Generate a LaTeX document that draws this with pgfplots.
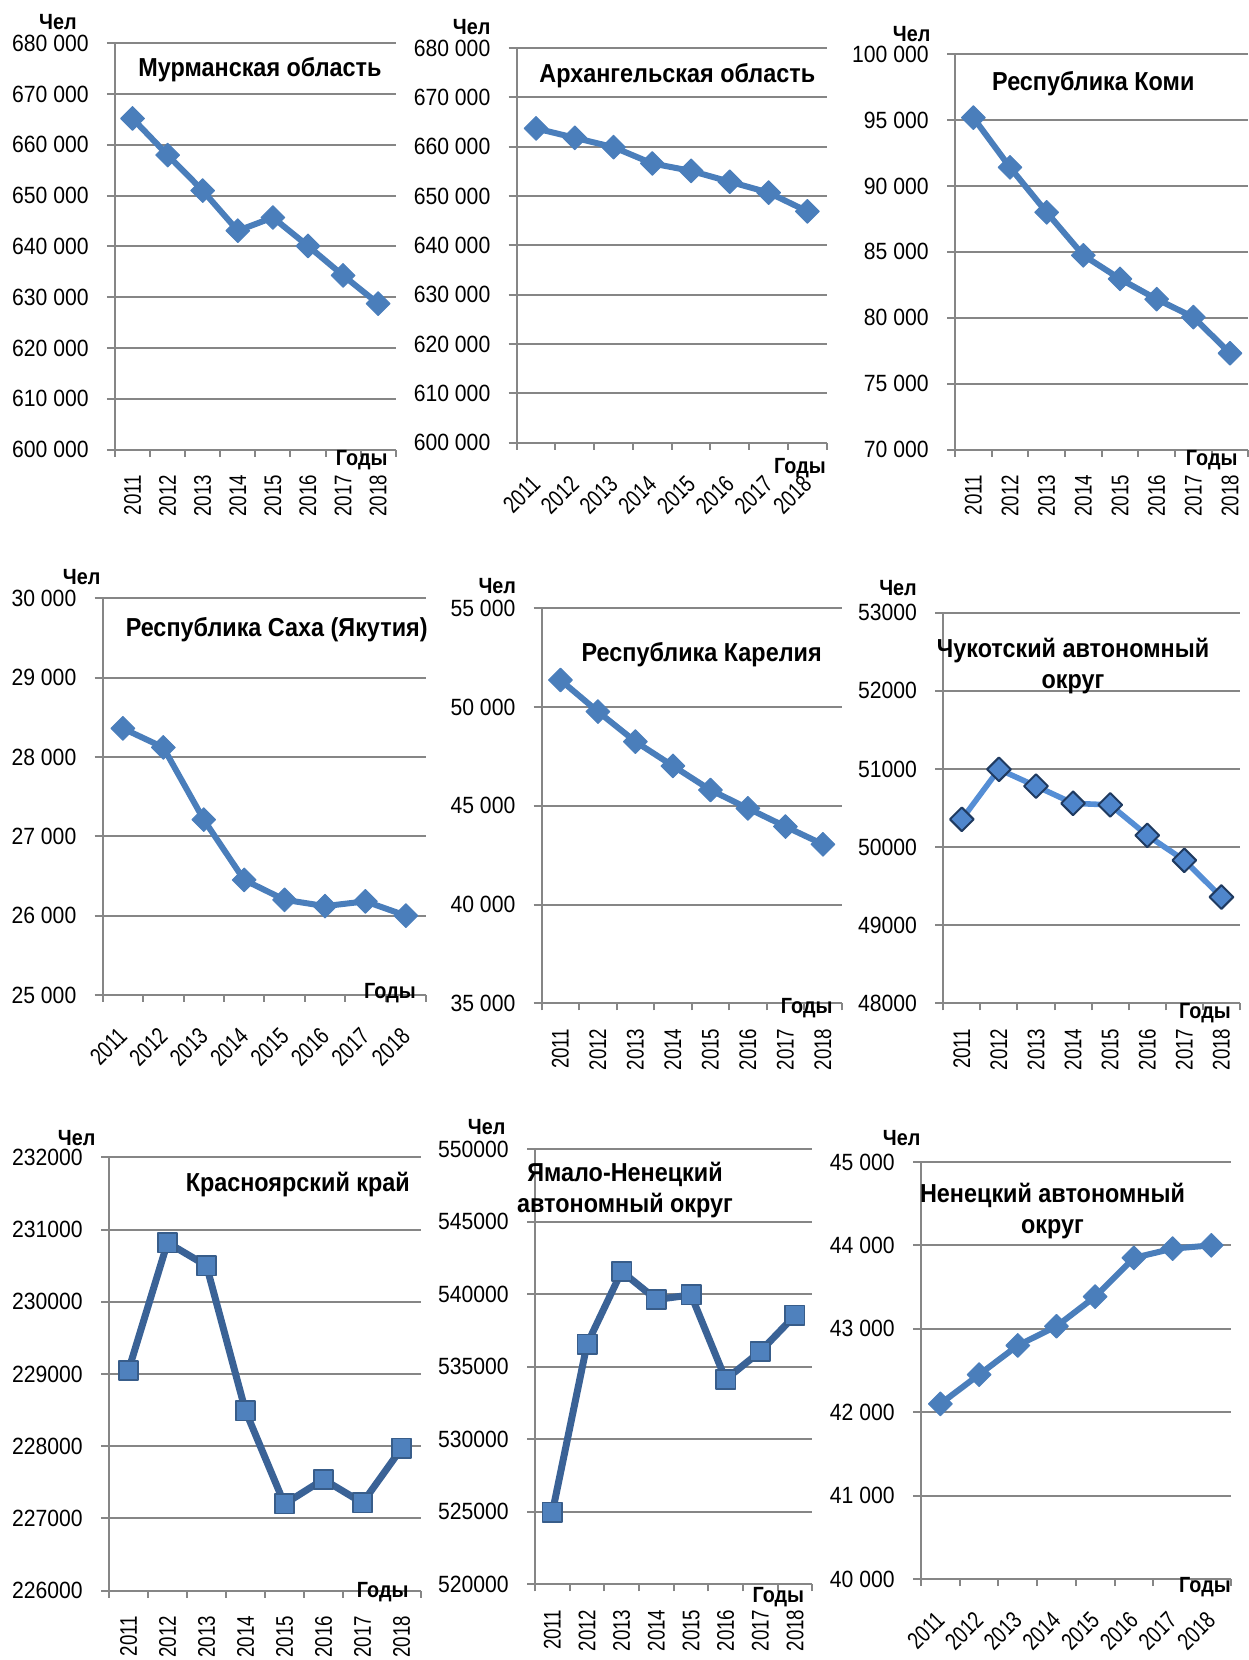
\documentclass[border=0pt]{standalone}
\usepackage{fontspec}
\setmainfont{Liberation Sans}[FakeStretch=0.9]
\newfontfamily\yearfont{Liberation Sans}[FakeStretch=0.78]
\usepackage{pgfplots}
\pgfplotsset{compat=1.18}
\definecolor{gridc}{HTML}{868686}
\definecolor{ser}{HTML}{4A7EBB}
\definecolor{serlight}{HTML}{558ED5}
\definecolor{serfill}{HTML}{4F86CC}
\definecolor{navy}{HTML}{1F3A60}
\definecolor{dark}{HTML}{3A6296}
\definecolor{sqfill}{HTML}{4F81BD}
\definecolor{sqedge}{HTML}{385D8A}
\newcommand\tickfont{\fontsize{11.75}{13}\selectfont}
\newcommand\titlefont{\fontsize{13}{15.9}\selectfont\bfseries}
\newcommand\smallbold{\fontsize{11}{12}\selectfont\bfseries}
\newcommand\yrfont{\yearfont\fontsize{12}{13}\selectfont}
\pgfplotsset{
 panel/.style={
   scale only axis, anchor=north west, clip=false,
   xmin=-0.5, xmax=7.5,
   axis x line*=bottom, axis y line*=left,
   axis line style={gridc, line width=1pt, -},
   every tick/.style={gridc, line width=1pt},
   tick align=outside,
   major tick length=4pt, minor tick length=3.5pt,
   ymajorgrids, grid style={gridc, line width=1pt},
   xtick={0,1,2,3,4,5,6,7},
   xticklabels={2011,2012,2013,2014,2015,2016,2017,2018},
   major x tick style={draw=none},
   minor xtick={-0.5,0.5,1.5,2.5,3.5,4.5,5.5,6.5,7.5},
   scaled y ticks=false,
   yticklabel style={font=\tickfont, anchor=east, inner sep=0pt},
   yticklabel shift=9pt,
   /pgf/number format/assume math mode=true,
   /pgf/number format/fixed,
   /pgf/number format/precision=0,
 },
 sep/.style={/pgf/number format/1000 sep={\ }},
 nosep/.style={/pgf/number format/1000 sep={}},
 rot90/.style={xticklabel style={font=\yrfont, rotate=90, anchor=east, inner sep=0pt}, xticklabel shift=8.5pt},
 rot45/.style={xticklabel style={font=\yrfont, rotate=45, anchor=east, inner sep=0pt}, xticklabel shift=14.5pt},
 dia/.style={ser, line width=3pt, line join=round, mark=square*, mark size=4.2pt,
   mark options={rotate=45, solid, fill=ser, draw=ser, line width=0.5pt}},
 diaO/.style={serlight, line width=2.8pt, line join=round, mark=square*, mark size=4.2pt,
   mark options={rotate=45, solid, fill=serfill, draw=navy, line width=1pt}},
 sq/.style={dark, line width=3.5pt, line join=round, mark=square*, mark size=4.85pt,
   mark options={solid, fill=sqfill, draw=sqedge, line width=0.8pt}},
}
\begin{document}
\begin{tikzpicture}
\path[use as bounding box] (0,0) rectangle (624pt,-830pt);
\begin{scope}[x=0.5pt,y=-0.5pt]
\coordinate (a1) at (115,43.3);
\coordinate (a2) at (516.7,48);
\coordinate (a3) at (955,54.1);
\coordinate (a4) at (102.7,598.3);
\coordinate (a5) at (541.7,608.3);
\coordinate (a6) at (943.3,612.7);
\coordinate (a7) at (109,1157.4);
\coordinate (a8) at (535,1149.3);
\coordinate (a9) at (921,1161.9);
\end{scope}

% 1 Murmansk
\begin{axis}[panel, sep, rot90, at={(a1)}, width=140.35pt, height=203.15pt,
  ymin=600000, ymax=680000, ytick={600000,610000,620000,630000,640000,650000,660000,670000,680000}]
\addplot[dia] coordinates {(0,665200) (1,658000) (2,651000) (3,643100) (4,645700) (5,640100) (6,634300) (7,628750)};
\end{axis}
% 2 Arkhangelsk
\begin{axis}[panel, sep, rot45, at={(a2)}, width=155pt, height=197.4pt,
  ymin=600000, ymax=680000, ytick={600000,610000,620000,630000,640000,650000,660000,670000,680000}]
\addplot[dia] coordinates {(0,663700) (1,661800) (2,659900) (3,656600) (4,655100) (5,652900) (6,650700) (7,646900)};
\end{axis}
% 3 Komi
\begin{axis}[panel, sep, rot90, at={(a3)}, width=146.67pt, height=197.75pt,
  ymin=70000, ymax=100000, ytick={70000,75000,80000,85000,90000,95000,100000}]
\addplot[dia] coordinates {(0,95180) (1,91410) (2,88000) (3,84740) (4,82950) (5,81410) (6,80050) (7,77310)};
\end{axis}
% 4 Sakha
\begin{axis}[panel, sep, rot45, at={(a4)}, width=161.67pt, height=198.33pt,
  ymin=25000, ymax=30000, ytick={25000,26000,27000,28000,29000,30000}]
\addplot[dia] coordinates {(0,28360) (1,28120) (2,27210) (3,26450) (4,26200) (5,26120) (6,26180) (7,26000)};
\end{axis}
% 5 Karelia
\begin{axis}[panel, sep, rot90, at={(a5)}, width=150pt, height=197.5pt,
  ymin=35000, ymax=55000, ytick={35000,40000,45000,50000,55000}]
\addplot[dia] coordinates {(0,51370) (1,49770) (2,48250) (3,47020) (4,45800) (5,44870) (6,43950) (7,43050)};
\end{axis}
% 6 Chukotka
\begin{axis}[panel, nosep, rot90, at={(a6)}, width=148.33pt, height=195.3pt,
  ymin=48000, ymax=53000, ytick={48000,49000,50000,51000,52000,53000}]
\addplot[diaO] coordinates {(0,50355) (1,50995) (2,50780) (3,50560) (4,50540) (5,50150) (6,49830) (7,49360)};
\end{axis}
% 7 Krasnoyarsk
\begin{axis}[panel, nosep, rot90, at={(a7)}, width=156pt, height=216.6pt,
  ymin=226000, ymax=232000, ytick={226000,227000,228000,229000,230000,231000,232000}]
\addplot[sq] coordinates {(0,229050) (1,230820) (2,230500) (3,228490) (4,227200) (5,227540) (6,227215) (7,227970)};
\end{axis}
% 8 YaNAO
\begin{axis}[panel, nosep, rot90, at={(a8)}, width=138.67pt, height=217.5pt,
  ymin=520000, ymax=550000, ytick={520000,525000,530000,535000,540000,545000,550000}]
\addplot[sq] coordinates {(0,524960) (1,536550) (2,541580) (3,539640) (4,539960) (5,534130) (6,536060) (7,538550)};
\end{axis}
% 9 Nenets
\begin{axis}[panel, sep, rot45, at={(a9)}, width=154.83pt, height=208.55pt,
  ymin=40000, ymax=45000, ytick={40000,41000,42000,43000,44000,45000}]
\addplot[dia] coordinates {(0,42100) (1,42450) (2,42800) (3,43030) (4,43385) (5,43850) (6,43960) (7,44000)};
\end{axis}

\begin{scope}[x=0.5pt,y=-0.5pt]
\node[font=\titlefont] at (260,69.3) {Мурманская область};
\node[font=\titlefont] at (677.3,76) {Архангельская область};
\node[font=\titlefont] at (1093.3,83.8) {Республика Коми};
\node[font=\titlefont] at (276.7,630) {Республика Саха (Якутия)};
\node[font=\titlefont] at (701.7,654.3) {Республика Карелия};
\node[font=\titlefont, align=center] at (1073,666) {Чукотский автономный\\округ};
\node[font=\titlefont] at (297.8,1184.7) {Красноярский край};
\node[font=\titlefont, align=center] at (625,1190) {Ямало-Ненецкий\\автономный округ};
\node[font=\titlefont, align=center] at (1052.5,1211) {Ненецкий автономный\\округ};
\foreach \x/\y in {58/22, 471.7/27, 911.7/33.8, 81.7/576.7, 497.3/586, 898/588, 76.7/1138, 486.7/1126.8, 901.7/1138}
  \node[font=\smallbold, inner sep=0pt] at (\x,\y) {Чел};
\foreach \x/\y in {361.7/459.7, 800/468, 1211.7/459.7, 390/993.3, 806.7/1008, 1205/1013, 382.7/1592.4, 778.3/1597.6, 1205/1587}
  \node[font=\smallbold, inner sep=0pt] at (\x,\y) {Годы};
\end{scope}
\end{tikzpicture}
\end{document}
